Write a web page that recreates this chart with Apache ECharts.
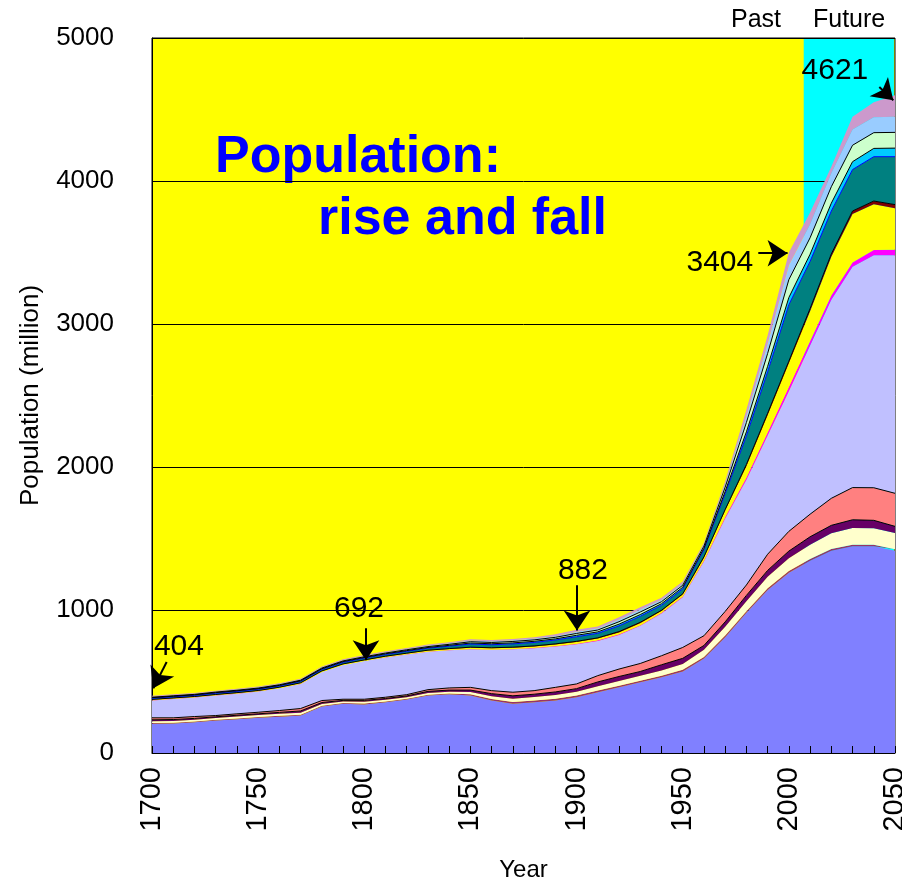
<!DOCTYPE html>
<html>
<head>
<meta charset="utf-8">
<title>Population: rise and fall</title>
<script src="https://cdn.jsdelivr.net/npm/echarts@6/dist/echarts.min.js"></script>
<style>
  html, body { margin: 0; padding: 0; background: #ffffff; }
  #popChart { width: 902px; height: 883px; }
</style>
</head>
<body>
<div id="popChart"></div>
<script>
// years on the x axis
const years = [1700, 1710, 1720, 1730, 1740, 1750, 1760, 1770, 1780, 1790,
               1800, 1810, 1820, 1830, 1840, 1850, 1860, 1870, 1880, 1890,
               1900, 1910, 1920, 1930, 1940, 1950, 1960, 1970, 1980, 1990,
               2000, 2010, 2020, 2030, 2040, 2050];

// stacked layers, bottom to top (million)
const layer01 = [205, 207, 215, 228, 236, 246, 254, 262, 325, 344,
                 339, 355, 374, 402, 410, 402, 367, 344, 355, 367,
                 390, 425, 459, 494, 529, 570, 660, 810, 980, 1140,
                 1260, 1345, 1415, 1445, 1445, 1415];
const layer02 = [5, 5, 5, 5, 6, 6, 6, 6, 6, 6,
                 8, 6, 6, 6, 6, 8, 10, 12, 12, 12,
                 12, 12, 12, 12, 12, 12, 12, 12, 12, 12,
                 12, 12, 12, 12, 12, 10];
const layer03 = [12, 12, 12, 12, 13, 13, 14, 14, 12, 10,
                 12, 11, 10, 12, 12, 16, 20, 24, 24, 26,
                 26, 30, 32, 34, 36, 40, 50, 60, 70, 80,
                 90, 100, 110, 116, 115, 113];
const layer04 = [10, 10, 10, 8, 9, 9, 10, 12, 10, 8,
                 9, 9, 9, 11, 12, 14, 18, 20, 20, 22,
                 22, 30, 32, 30, 40, 40, 30, 35, 40, 45,
                 50, 55, 55, 58, 55, 47];
const layer05 = [14, 12, 13, 9, 10, 11, 13, 17, 14, 8,
                 8, 9, 9, 12, 15, 19, 21, 25, 25, 32,
                 33, 44, 52, 56, 63, 76, 68, 73, 73, 113,
                 138, 158, 189, 225, 228, 231];
const layer06 = [122, 132, 133, 140, 141, 145, 155, 172, 199, 239,
                 267, 278, 281, 265, 263, 267, 286, 301, 297, 286,
                 277, 243, 239, 263, 295, 352, 520, 650, 735, 830,
                 980, 1180, 1389, 1544, 1625, 1664];
const layer07 = [1, 1, 1, 1, 1, 1, 1, 1, 1, 1,
                 1, 1, 1, 2, 2, 2, 2, 2, 3, 3,
                 4, 4, 4, 5, 5, 5, 6, 10, 16, 22,
                 30, 30, 30, 30, 38, 40];
const layer08 = [4, 4, 4, 4, 4, 4, 5, 5, 5, 5,
                 5, 6, 6, 6, 7, 8, 8, 8, 9, 10,
                 12, 12, 13, 14, 13, 13, 20, 45, 80, 120,
                 165, 210, 270, 340, 320, 290];
const layer09 = [2, 2, 2, 2, 2, 2, 2, 2, 2, 2,
                 2, 2, 2, 3, 3, 4, 4, 4, 4, 5,
                 5, 5, 6, 6, 5, 5, 6, 8, 12, 14,
                 15, 18, 20, 20, 22, 25];
const layer10 = [8, 8, 8, 9, 9, 9, 9, 10, 10, 11,
                 12, 12, 13, 14, 17, 22, 21, 23, 24, 27,
                 32, 32, 40, 42, 35, 35, 50, 110, 200, 290,
                 395, 330, 300, 290, 310, 335];
const layer11 = [4, 4, 4, 4, 4, 4, 4, 4, 5, 5,
                 5, 5, 5, 5, 6, 7, 7, 7, 8, 8,
                 10, 10, 12, 12, 11, 11, 10, 16, 28, 38,
                 50, 50, 55, 55, 58, 60];
const layer12 = [3, 3, 3, 4, 4, 4, 4, 4, 5, 5,
                 5, 5, 6, 6, 7, 9, 9, 10, 10, 11,
                 13, 13, 17, 18, 14, 14, 15, 30, 65, 90,
                 125, 115, 115, 115, 110, 110];
const layer13 = [4, 4, 4, 4, 5, 5, 5, 5, 5, 5,
                 6, 6, 6, 7, 7, 9, 8, 9, 9, 10,
                 12, 12, 16, 17, 13, 13, 12, 24, 45, 70,
                 100, 95, 95, 110, 107, 110];
const layer14 = [6, 6, 6, 6, 6, 6, 6, 6, 6, 6,
                 6, 7, 7, 7, 8, 9, 9, 9, 10, 11,
                 14, 13, 16, 17, 14, 14, 11, 17, 44, 56,
                 90, 82, 45, 90, 105, 150];

const yTicks = [0, 1000, 2000, 3000, 4000, 5000];
const futureSpan = [2007, 2049.5];

const FONT = '"Liberation Sans", Arial, sans-serif';

const layers = [
  { data: layer01, color: '#8080FF', line: null },
  { data: layer02, color: '#993366', line: null },
  { data: layer03, color: '#FFFFCC', line: null },
  { data: layer04, color: '#660066', line: '#000000' },
  { data: layer05, color: '#FF8080', line: '#000000' },
  { data: layer06, color: '#C0C0FF', line: null },
  { data: layer07, color: '#FF00FF', line: null },
  { data: layer08, color: '#FFFF00', line: null },
  { data: layer09, color: '#800000', line: '#000000' },
  { data: layer10, color: '#008080', line: '#0000FF' },
  { data: layer11, color: '#00CCFF', line: '#000000' },
  { data: layer12, color: '#CCFFCC', line: '#000000' },
  { data: layer13, color: '#99CCFF', line: null },
  { data: layer14, color: '#CC99CC', line: null }
];

// callouts: number text and arrow, in data units
const callouts = [
  { text: '404',  at: [1712.7, 743],  from: [1706.9, 636],  to: [1700.6, 452] },
  { text: '692',  at: [1797.5, 1009], from: [1800.8, 872],  to: [1800.8, 648] },
  { text: '882',  at: [1903, 1277],   from: [1900.2, 1173], to: [1900.2, 857] },
  { text: '3404', at: [1967.5, 3428], from: [1985.6, 3495], to: [1999.4, 3495] },
  { text: '4621', at: [2021.7, 4774], from: [2042.6, 4657], to: [2049.2, 4564] }
];

const plain = v => String(v);

// value first, year second, so the stack goes on the y dimension
const series = layers.map((layer, i) => {
  const s = {
    name: 'layer' + (i + 1),
    type: 'line',
    stack: 'population',
    data: years.map((y, j) => [layer.data[j], y]),
    encode: { x: 1, y: 0 },
    symbol: 'none',
    showSymbol: false,
    lineStyle: layer.line ? { color: layer.line, width: 1 } : { width: 0 },
    areaStyle: { color: layer.color, opacity: 1 },
    itemStyle: { color: layer.color },
    emphasis: { disabled: true },
    silent: true
  };
  if (i === 0) {
    s.markArea = {
      silent: true,
      z: 1,
      itemStyle: { color: '#00FFFF', opacity: 1 },
      data: [[{ xAxis: futureSpan[0] }, { xAxis: futureSpan[1] }]]
    };
  }
  return s;
});

// callout texts and arrows on their own unstacked series
series.push({
  name: 'callouts',
  type: 'line',
  data: [],
  silent: true,
  markPoint: {
    silent: true,
    symbol: 'circle',
    symbolSize: 0,
    label: { show: true, position: 'inside', color: '#000', fontSize: 30, fontFamily: FONT },
    data: callouts.map(c => ({ coord: c.at, label: { formatter: c.text } }))
  },
  markLine: {
    silent: true,
    symbol: ['none', 'arrow'],
    symbolSize: 20,
    label: { show: false },
    lineStyle: { color: '#000', width: 2, type: 'solid' },
    data: callouts.map(c => [{ coord: c.from }, { coord: c.to }])
  }
});

const chart = echarts.init(document.getElementById('popChart'));

chart.setOption({
  animation: false,
  backgroundColor: '#ffffff',
  textStyle: { fontFamily: FONT },
  grid: {
    left: 152, right: 7, top: 38, bottom: 130,
    outerBoundsMode: 'none',
    show: true, backgroundColor: '#FFFF00', borderColor: '#000', borderWidth: 1
  },
  xAxis: {
    type: 'value',
    min: 1700, max: 2050, interval: 50,
    name: 'Year', nameLocation: 'middle', nameGap: 105,
    nameTextStyle: { color: '#000', fontSize: 24, fontFamily: FONT },
    axisLine: { lineStyle: { color: '#000', width: 1 } },
    axisTick: { show: true, inside: true, length: 7, lineStyle: { color: '#000' } },
    minorTick: { show: true, splitNumber: 5, length: 7, lineStyle: { color: '#000' } },
    axisLabel: { rotate: 90, margin: 14, color: '#000', fontSize: 29, fontFamily: FONT, formatter: plain },
    splitLine: { show: false },
    z: 3
  },
  yAxis: {
    type: 'value',
    min: yTicks[0], max: yTicks[yTicks.length - 1], interval: 1000,
    name: 'Population (million)', nameLocation: 'middle', nameGap: 108, nameRotate: 90,
    nameTextStyle: { color: '#000', fontSize: 26, fontFamily: FONT },
    axisLine: { show: true, lineStyle: { color: '#000', width: 1 } },
    axisTick: { show: false },
    axisLabel: { margin: 38, color: '#000', fontSize: 26, fontFamily: FONT, formatter: plain },
    splitLine: { show: true, lineStyle: { color: '#000', width: 1 } },
    z: 1.5
  },
  graphic: [
    { type: 'text', left: 215, top: 132,
      style: { text: 'Population:', font: 'bold 52px ' + FONT, fill: '#0000FF' } },
    { type: 'text', left: 318, top: 194,
      style: { text: 'rise and fall', font: 'bold 52px ' + FONT, fill: '#0000FF' } },
    { type: 'text', left: 731, top: 8,
      style: { text: 'Past', font: '25px ' + FONT, fill: '#000' } },
    { type: 'text', left: 813, top: 8,
      style: { text: 'Future', font: '25px ' + FONT, fill: '#000' } }
  ],
  series: series
});
</script>
</body>
</html>
